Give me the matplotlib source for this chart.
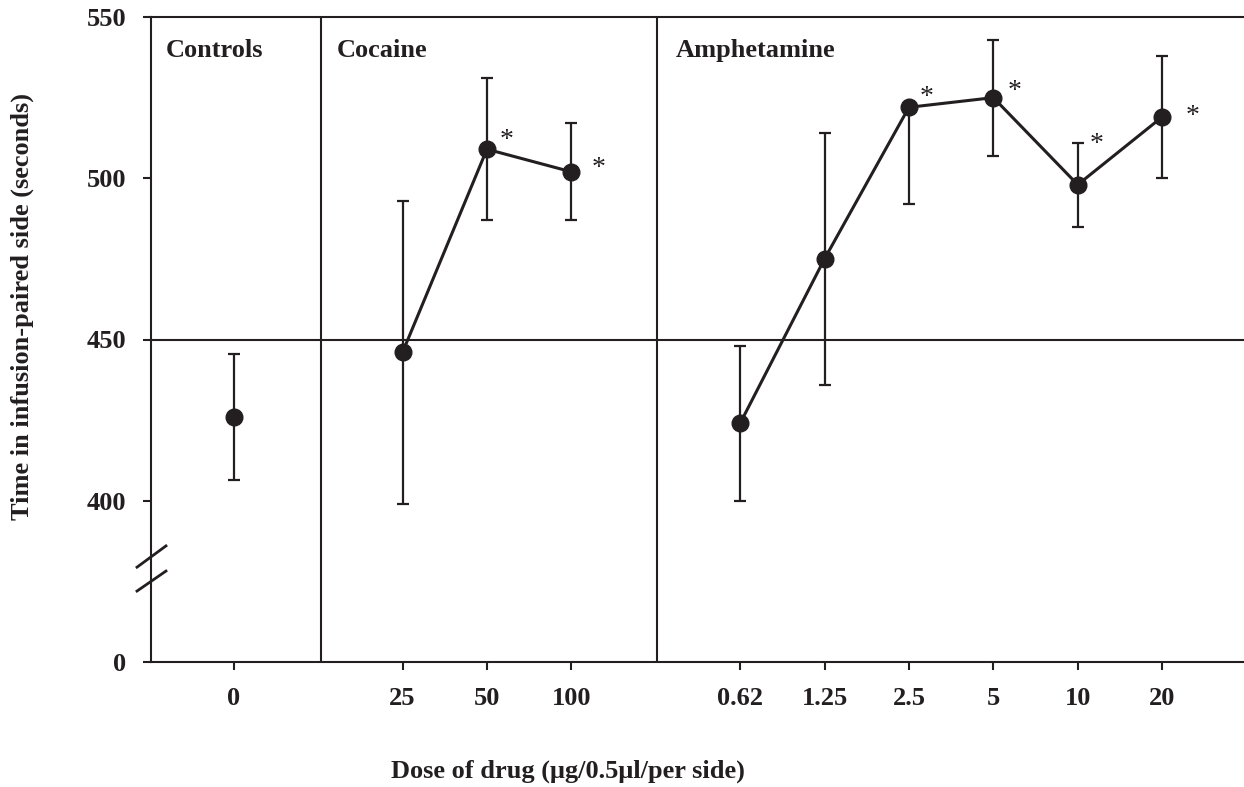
import matplotlib
matplotlib.use("Agg")
import matplotlib.pyplot as plt

plt.rcParams.update({"font.family": ["Liberation Serif", "DejaVu Serif"], "font.weight": "bold",
                     "font.size": 19, "axes.linewidth": 1.5})
INK = "#231f20"

# one slot per dose, empty slot between groups
ctrl_x = [0]
coc_x = [2, 3, 4]
amph_x = [6, 7, 8, 9, 10, 11]
tick_labels = ["0", "25", "50", "100", "0.62", "1.25", "2.5", "5", "10", "20"]
group_names = ["Controls", "Cocaine", "Amphetamine"]

# time in infusion-paired side (s), mean and error
ctrl_mean = [426]
ctrl_err = [19.5]
coc_mean = [446, 509, 502]
coc_err = [47, 22, 15]
amph_mean = [424, 475, 522, 525, 498, 519]
amph_err_lo = [24, 39, 30, 18, 13, 19]
amph_err_hi = [24, 39, 0, 18, 13, 19]
coc_sig = [False, True, True]
amph_sig = [False, False, True, True, True, True]

# star offsets (pixels) from each point
coc_star_off = [None, (20, 2), (27, -3)]
amph_star_off = [None, None, (18, 3), (21, 0), (19, 34), (30, -6)]

fig = plt.figure(figsize=(12.44, 7.87), dpi=100)
ax = fig.add_axes([151 / 1244, 125 / 787, 1093 / 1244, 645 / 787])

style = dict(fmt="o", color=INK, ms=12, elinewidth=1.6, capsize=4, capthick=1.6, zorder=3)
ax.errorbar(ctrl_x, ctrl_mean, yerr=ctrl_err, **style)
ax.errorbar(coc_x, coc_mean, yerr=coc_err, **style)
ax.errorbar(amph_x, amph_mean, yerr=[amph_err_lo, amph_err_hi], **style)
ax.plot(coc_x, coc_mean, color=INK, lw=2.2, zorder=3)
ax.plot(amph_x, amph_mean, color=INK, lw=2.2, zorder=3)

for xs, ys, sig, offs in [(coc_x, coc_mean, coc_sig, coc_star_off),
                          (amph_x, amph_mean, amph_sig, amph_star_off)]:
    for x, y, s, off in zip(xs, ys, sig, offs):
        if s:
            ax.annotate("*", xy=(x, y), xytext=off, textcoords="offset pixels",
                        ha="center", va="baseline", fontsize=20, fontweight="normal", color=INK)

# panel dividers
ax.axvline(1.03, color=INK, lw=1.5, zorder=1)
ax.axvline(5.01, color=INK, lw=1.5, zorder=1)
ax.axhline(450, color=INK, lw=1.5, zorder=1)

for name, gx in zip(group_names, [-0.81, 1.22, 5.24]):
    ax.text(gx, 537.5, name, ha="left", va="baseline", fontsize=19, color=INK)

ax.set_xlim(-0.98, 11.97)
ax.set_ylim(350, 550)
ax.set_xticks(ctrl_x + coc_x + amph_x)
ax.set_xticklabels(tick_labels)
ax.set_yticks([350, 400, 450, 500, 550])
ax.set_yticklabels(["0", "400", "450", "500", "550"])
ax.tick_params(direction="out", length=6, width=1.5, pad=12, colors=INK)
ax.spines["right"].set_visible(False)
for sp in ("left", "bottom", "top"):
    ax.spines[sp].set_color(INK)

# axis break marks
for y0, y1 in [(0.147, 0.180), (0.110, 0.141)]:
    ax.plot([-0.0128, 0.0137], [y0, y1], transform=ax.transAxes, color=INK, lw=2,
            clip_on=False, zorder=4)

fig.text(22 / 1244, (787 - 306) / 787, "Time in infusion-paired side (seconds)", rotation=90,
         ha="center", va="center", fontsize=19, color=INK)
fig.text(568 / 1244, 9 / 787, "Dose of drug (\u03bcg/0.5\u03bcl/per side)", ha="center",
         va="baseline", fontsize=19, color=INK)

fig.savefig("out.png", dpi=100)
